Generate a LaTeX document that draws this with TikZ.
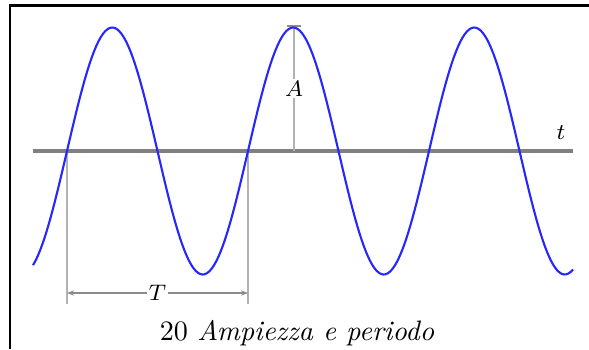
\documentclass[tikz,border=0pt]{standalone}
\usepackage{tikz}
\usetikzlibrary{arrows.meta}

\begin{document}
\begin{tikzpicture}[x=0.0125cm,y=-0.0125cm,>=Stealth, every node/.style={font=\footnotesize}]
\tikzset{guide/.style={draw=black!30,line width=0.9pt},
  lbl/.style={fill=white,text=black,inner sep=0.8pt}}
\useasboundingbox (0,0) rectangle (589,349);
\draw[line width=1pt] (10,349) -- (10,5.5) -- (589,5.5);
% time axis
\coordinate (ax0) at (33,151);
\coordinate (ax1) at (573,151);
\draw[black!50,line width=1.1pt] (ax0) -- (ax1);
\node (t) at (561,133) {$t$};
% period
\coordinate (p0) at (67,151);
\coordinate (p1) at (248,151);
\coordinate (q0) at (67,304);
\coordinate (q1) at (248,304);
\draw[guide] (p0) -- (q0);
\draw[guide] (p1) -- (q1);
\coordinate (r0) at (67,293);
\coordinate (r1) at (248,293);
\draw[{Stealth[length=2.5pt]}-{Stealth[length=2.5pt]},black!45,line width=0.8pt] (r0) -- node[lbl] (T) {$T$} (r1);
% amplitude
\coordinate (a0) at (294,151);
\coordinate (a1) at (294,26);
\draw[guide] (a0) -- node[lbl,pos=0.5] (A) {$A$} (a1);
\draw[black!45,line width=0.9pt] ([xshift=-2.5pt]a1) -- ([xshift=2.5pt]a1);
% wave
\draw[blue!85!white,line width=0.75pt,domain=33:573,samples=240,smooth] plot (\x,{151-123.5*sin((\x-67)/181*360)});
\node[anchor=base,font=\normalsize] (cap) at (297,340) {20 \textit{Ampiezza e periodo}};
\end{tikzpicture}
\end{document}
